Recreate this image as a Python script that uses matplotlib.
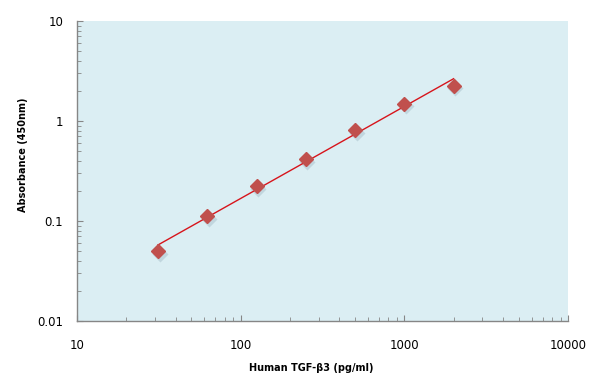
import matplotlib
matplotlib.use('Agg')
import matplotlib.pyplot as plt
import matplotlib.transforms as mtransforms
from matplotlib.ticker import LogLocator, NullFormatter, FixedLocator
import numpy as np

# Standard curve readings
conc = [31.25, 62.5, 125, 250, 500, 1000, 2000]
absorb = [0.050, 0.112, 0.222, 0.415, 0.81, 1.48, 2.24]

x_ticks = [10, 100, 1000, 10000]
x_tick_labels = ['10', '100', '1000', '10000']
y_ticks = [0.01, 0.1, 1, 10]
y_tick_labels = ['0.01', '0.1', '1', '10']

W, H = 596, 390
fig = plt.figure(figsize=(W / 100, H / 100), dpi=100)
ax = fig.add_axes([77 / W, 1 - 321 / H, (568 - 77) / W, (321 - 21) / H])
ax.set_facecolor('#dbeef3')

# power trendline fitted in log space
k, b = np.polyfit(np.log10(conc), np.log10(absorb), 1)
xt = np.array([conc[0], conc[-1]])
ax.plot(xt, 10 ** (k * np.log10(xt) + b), color='#d7141b', lw=1.0, zorder=3)

# soft marker shadow
shadow = mtransforms.offset_copy(ax.transData, fig=fig, x=1.2, y=-1.8, units='points')
ax.plot(conc, absorb, ls='none', marker='D', ms=8.5, color='#5a7a8a', alpha=0.2,
        mec='none', transform=shadow, zorder=2)
ax.plot(conc, absorb, ls='none', marker='D', ms=7.5, color='#c0504d', mec='#c0504d',
        zorder=4)

ax.set_xscale('log')
ax.set_yscale('log')
ax.set_xlim(10, 10000)
ax.set_ylim(0.01, 10)

ax.xaxis.set_major_locator(FixedLocator(x_ticks))
ax.set_xticklabels(x_tick_labels)
ax.yaxis.set_major_locator(FixedLocator(y_ticks))
ax.set_yticklabels(y_tick_labels)
ax.xaxis.set_minor_locator(LogLocator(base=10, subs=np.arange(2, 10)))
ax.yaxis.set_minor_locator(LogLocator(base=10, subs=np.arange(2, 10)))
ax.xaxis.set_minor_formatter(NullFormatter())
ax.yaxis.set_minor_formatter(NullFormatter())

for s in ['top', 'right']:
    ax.spines[s].set_visible(False)
for s in ['left', 'bottom']:
    ax.spines[s].set_color('#868686')
    ax.spines[s].set_linewidth(1.0)

ax.tick_params(axis='both', which='major', direction='in', length=4.5, color='#868686',
               labelsize=8.5)
ax.tick_params(axis='both', which='minor', direction='in', length=3, color='#868686')
ax.tick_params(axis='x', which='major', pad=13)
ax.tick_params(axis='y', which='major', pad=10)

fig.text(311 / W, 1 - 368 / H, 'Human TGF-β3 (pg/ml)', fontsize=7, fontweight='bold',
         ha='center', va='center')
fig.text(23 / W, 1 - 155 / H, 'Absorbance (450nm)', fontsize=7, fontweight='bold',
         ha='center', va='center', rotation=90)

fig.savefig('out.png', dpi=100, facecolor='white')
